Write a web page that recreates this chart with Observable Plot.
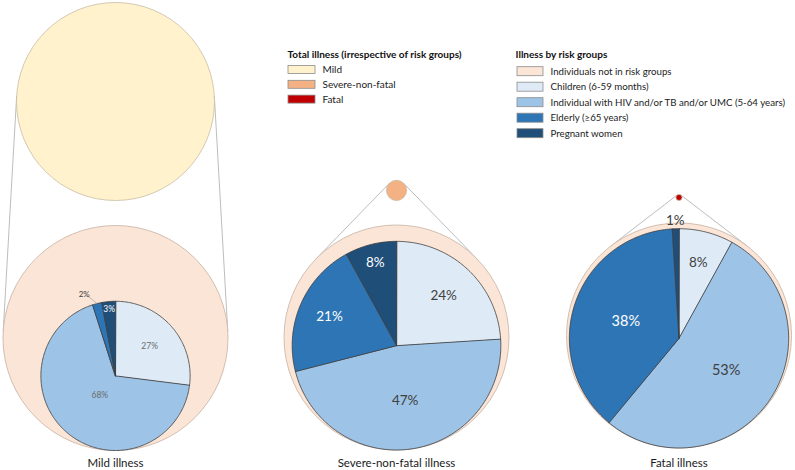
<!DOCTYPE html>
<html><head><meta charset="utf-8">
<script src="https://cdn.jsdelivr.net/npm/d3@7"></script>
<script src="https://cdn.jsdelivr.net/npm/@observablehq/plot@0.6"></script>
<style>body{margin:0;background:#fff}#chart svg{display:block}</style>
</head><body><div id="chart"></div>
<script>
// ---------------- DATA ----------------
const illnessTypes = ["Mild illness", "Severe-non-fatal illness", "Fatal illness"];
const totalIllnessLegend = ["Mild", "Severe-non-fatal", "Fatal"];
const totalLegendTitle = "Total illness (irrespective of risk groups)";
const riskLegendTitle = "Illness by risk groups";
const riskGroups = [
  "Individuals not in risk groups",
  "Children (6-59 months)",
  "Individual with HIV and/or TB and/or UMC (5-64 years)",
  "Elderly (\u226565 years)",
  "Pregnant women"
];
// relative burden of each illness level (circle area)
const relativeBurden = [1000, 10.4, 0.95];
// share of illness that falls in risk groups (inner pie area / outer circle area)
const riskGroupShare = [0.44, 0.86, 0.95];
// % by risk group (children, HIV/TB/UMC, elderly, pregnant)
const mildPct = [27, 68, 2, 3];
const severePct = [24, 47, 21, 8];
const fatalPct = [8, 53, 38, 1];
const pctByIllness = [mildPct, severePct, fatalPct];

// ---------------- LAYOUT / STYLE ----------------
const W = 795, H = 470;
const totalColors = ["#FFF2CC", "#F4B183", "#C00000"];
const groupColors = ["#FBE5D6", "#DEEBF7", "#9DC3E6", "#2E75B6", "#1F4E79"];
const panelX = [115, 396, 678.5];
const panelY = [337.5, 337, 335];
const outerR = 112.5;
const baseLine = 200;
const labelDist = [[0.61, 0.33, 1.17, 0.89], [0.66, 0.53, 0.70, 0.82], [0.71, 0.52, 0.51, 1.07]];
const labelAngleShift = [[0, 0, -6.6, 0], [0, 0, 0, 0], [0, 0, 0, 0]];
const labelSize = [[8.5, 8.5, 8, 8.5], [13.5, 13.5, 13.5, 13.5], [13.5, 14.5, 14.5, 13.5]];
const labelBold = [[false, false, false, true], [false, false, false, false], [false, false, false, false]];
const font = "Lato, 'Open Sans', sans-serif";

const rOpts = {type: "sqrt", domain: [0, 1000], range: [0, 99]};
const rScale = Plot.scale({r: rOpts});

// total circles
const totals = illnessTypes.map((name, i) => {
  const r = rScale.apply(relativeBurden[i]);
  return {name, value: relativeBurden[i], r, x: panelX[i], y: baseLine - r, fill: totalColors[i]};
});

// tangent connector lines
const links = [];
totals.forEach((t, i) => {
  const d = panelY[i] - t.y;
  const ny = -(outerR - t.r) / d;
  const nx = Math.sqrt(1 - ny * ny);
  for (const s of [-1, 1]) {
    links.push({x1: t.x + s * nx * t.r, y1: t.y + ny * t.r, x2: panelX[i] + s * nx * outerR, y2: panelY[i] + ny * outerR});
  }
});

// outer circles (not in risk group)
const outers = illnessTypes.map((name, i) => ({name, x: panelX[i], y: panelY[i]}));

// pie slices
const slicePts = [];
const labels = [];
const leaders = [];
pctByIllness.forEach((pcts, i) => {
  const pr = outerR * Math.sqrt(riskGroupShare[i]);
  const cx = panelX[i], cy = panelY[i] + outerR - pr;
  const total = d3.sum(pcts);
  let acc = 0;
  pcts.forEach((p, j) => {
    const a0 = acc / total * 360, a1 = (acc + p) / total * 360;
    acc += p;
    const id = `${i}-${j}`;
    const fill = groupColors[j + 1];
    slicePts.push({id, x: cx, y: cy, fill});
    const n = Math.max(2, Math.ceil(a1 - a0));
    for (let k = 0; k <= n; k++) {
      const a = (a0 + (a1 - a0) * k / n) * Math.PI / 180;
      slicePts.push({id, x: cx + pr * Math.sin(a), y: cy - pr * Math.cos(a), fill});
    }
    const am = (a0 + a1) / 2;
    const la = (am + labelAngleShift[i][j]) * Math.PI / 180;
    const ld = labelDist[i][j];
    const outside = ld > 1;
    labels.push({
      text: p + "%",
      x: cx + pr * ld * Math.sin(la), y: cy - pr * ld * Math.cos(la),
      size: labelSize[i][j],
      weight: labelBold[i][j] ? "bold" : "normal",
      fill: outside ? "#404040" : (j >= 2 ? "#ffffff" : (i === 0 ? "#6b6b6b" : "#404040"))
    });
    if (outside && labelAngleShift[i][j] !== 0) {
      const ar = am * Math.PI / 180;
      leaders.push({id, x: cx + pr * Math.sin(ar), y: cy - pr * Math.cos(ar)});
      leaders.push({id, x: cx + pr * 1.1 * Math.sin(ar - 0.06), y: cy - pr * 1.1 * Math.cos(ar - 0.06)});
      leaders.push({id, x: cx + pr * 1.14 * Math.sin(la + 0.02), y: cy - pr * 1.14 * Math.cos(la + 0.02)});
    }
  });
});

// legends
const leg1 = totalIllnessLegend.map((t, i) => ({t, fill: totalColors[i], y: 69.5 + 14.8 * i}));
const leg2 = riskGroups.map((t, i) => ({t, fill: groupColors[i], y: 71.2 + 15.5 * i}));

const chart = Plot.plot({
  width: W, height: H,
  margin: 0,
  x: {domain: [0, W], range: [0, W], axis: null},
  y: {domain: [0, H], range: [0, H], axis: null},
  r: rOpts,
  style: {fontFamily: font, background: "#fff"},
  marks: [
    Plot.link(links, {x1: "x1", y1: "y1", x2: "x2", y2: "y2", stroke: "#bdbdbd", strokeWidth: 1}),
    Plot.dot(outers, {x: "x", y: "y", r: outerR, fill: groupColors[0], stroke: "#d2bfb2", strokeWidth: 1}),
    Plot.dot(totals, {x: "x", y: "y", r: "value", fill: "fill", stroke: "#c8bda5", strokeWidth: 0.8}),
    Plot.line(slicePts, {x: "x", y: "y", z: "id", fill: "fill", stroke: "#3d3d3d", strokeWidth: 0.8, curve: "linear-closed", strokeLinejoin: "round"}),
    Plot.line(leaders, {x: "x", y: "y", z: "id", stroke: "#a6a6a6", strokeWidth: 0.8, curve: "basis"}),
    Plot.text(labels, {x: "x", y: "y", text: "text", fill: "fill", fontSize: "size", fontWeight: "weight"}),
    Plot.text(illnessTypes, {x: (d, i) => panelX[i], y: () => 463, text: d => d, fontSize: 11.5, fill: "#1a1a1a"}),
    // legend 1
    Plot.text([totalLegendTitle], {x: () => 287, y: () => 54, text: d => d, textAnchor: "start", fontWeight: "bold", fontSize: 10, fill: "#111"}),
    Plot.rect(leg1, {x1: () => 288, x2: () => 315, y1: d => d.y - 4, y2: d => d.y + 4, fill: "fill", stroke: "#8c8c8c", strokeWidth: 0.8}),
    Plot.text(leg1, {x: () => 322, y: "y", text: "t", textAnchor: "start", fontSize: 10, fill: "#222"}),
    // legend 2
    Plot.text([riskLegendTitle], {x: () => 515, y: () => 54, text: d => d, textAnchor: "start", fontWeight: "bold", fontSize: 10, fill: "#111"}),
    Plot.rect(leg2, {x1: () => 517, x2: () => 543, y1: d => d.y - 4.5, y2: d => d.y + 4.5, fill: "fill", stroke: "#8c8c8c", strokeWidth: 0.8}),
    Plot.text(leg2, {x: () => 550, y: "y", text: "t", textAnchor: "start", fontSize: 9.7, fill: "#222"})
  ]
});
document.getElementById("chart").appendChild(chart);
</script>
</body></html>
